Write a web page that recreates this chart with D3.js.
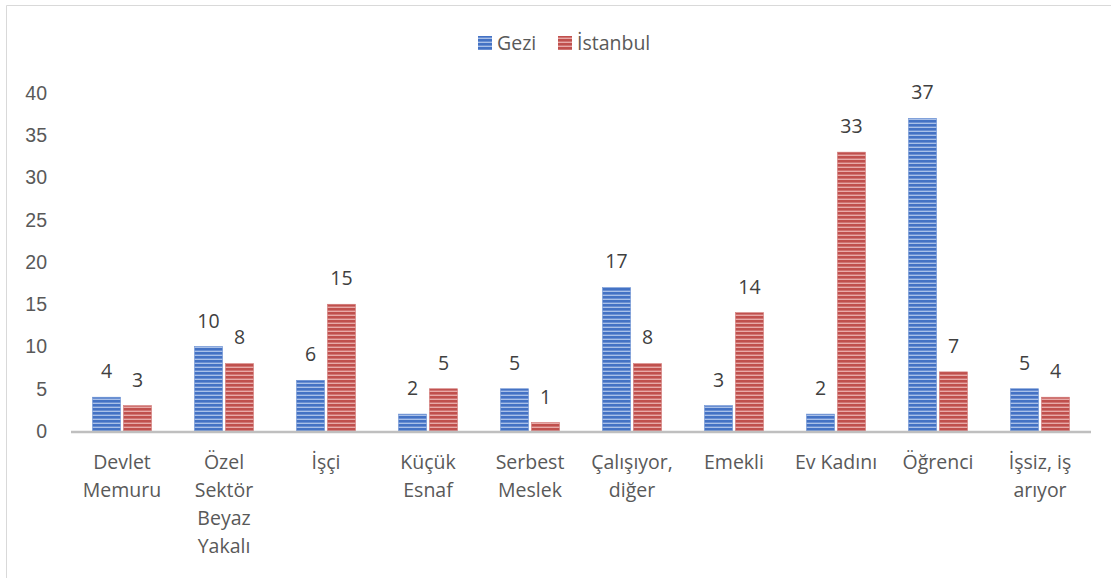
<!DOCTYPE html>
<html>
<head>
<meta charset="utf-8">
<script src="https://cdn.jsdelivr.net/npm/d3@7"></script>
<style>
  body { margin: 0; background: #fff; }
  svg { display: block; font-family: "Open Sans", "Noto Sans", sans-serif; }
</style>
</head>
<body>
<div id="chart"></div>
<script>
// Data
const categories = [
  ["Devlet", "Memuru"],
  ["Özel", "Sektör", "Beyaz", "Yakalı"],
  ["İşçi"],
  ["Küçük", "Esnaf"],
  ["Serbest", "Meslek"],
  ["Çalışıyor,", "diğer"],
  ["Emekli"],
  ["Ev Kadını"],
  ["Öğrenci"],
  ["İşsiz, iş", "arıyor"]
];
const seriesNames = ["Gezi", "İstanbul"];
const geziValues = [4, 10, 6, 2, 5, 17, 3, 2, 37, 5];
const istanbulValues = [3, 8, 15, 5, 1, 8, 14, 33, 7, 4];
const yTicks = [0, 5, 10, 15, 20, 25, 30, 35, 40];

const width = 1111, height = 578;
const margin = { top: 93, right: 20, bottom: 147, left: 71 };
const innerWidth = 1091 - margin.left;
const innerHeight = 431 - margin.top;
const fontSize = "19.5px";

const svg = d3.select("#chart")
  .append("svg")
    .attr("width", width)
    .attr("height", height);

// Frame (only top and left edges are visible)
svg.append("line")
  .attr("x1", 6.5).attr("x2", 6.5)
  .attr("y1", 5.5).attr("y2", height)
  .attr("stroke", "#D9D9D9");
svg.append("line")
  .attr("x1", 6.5).attr("x2", width)
  .attr("y1", 5.5).attr("y2", 5.5)
  .attr("stroke", "#D9D9D9");

// Striped patterns
const defs = svg.append("defs");
const patterns = [
  { id: "stripe-blue", base: "#4472C4", light: "#A9C0E8", mid: "#6A8FD2" },
  { id: "stripe-red", base: "#C0504D", light: "#E8AAA8", mid: "#D07472" }
];
patterns.forEach(p => {
  const pat = defs.append("pattern")
    .attr("id", p.id)
    .attr("patternUnits", "userSpaceOnUse")
    .attr("width", 8).attr("height", 4);
  pat.append("rect").attr("width", 8).attr("height", 4).attr("fill", p.base);
  pat.append("rect").attr("y", 1).attr("width", 8).attr("height", 1).attr("fill", p.mid);
  pat.append("rect").attr("y", 2).attr("width", 8).attr("height", 1).attr("fill", p.light);
});
const fills = ["url(#stripe-blue)", "url(#stripe-red)"];
const edgeColors = ["#6F93D4", "#D27B79"];

const innerChart = svg.append("g")
  .attr("transform", `translate(${margin.left}, ${margin.top})`);

// Scales
const xScale = d3.scaleBand()
  .domain(d3.range(categories.length))
  .range([0, innerWidth]);
const xSub = d3.scaleBand()
  .domain([0, 1])
  .range([xScale.bandwidth() / 2 - 29.5, xScale.bandwidth() / 2 + 29.5])
  .paddingInner(5 / 59 * 1.1);
const yScale = d3.scaleLinear()
  .domain([0, 40])
  .range([innerHeight, 0]);

// Left axis labels
const leftAxis = innerChart.append("g")
  .call(d3.axisLeft(yScale).tickValues(yTicks).tickSize(0).tickPadding(24));
leftAxis.select(".domain").remove();
leftAxis.selectAll("text")
  .attr("fill", "#595959")
  .style("font-size", fontSize);

// Bars
const rows = categories.map((c, i) => ({ i, values: [geziValues[i], istanbulValues[i]] }));
const groups = innerChart.selectAll(".group")
  .data(rows)
  .join("g")
    .attr("class", "group")
    .attr("transform", d => `translate(${xScale(d.i)}, 0)`);

groups.selectAll("rect")
  .data(d => d.values.map((v, s) => ({ v, s })))
  .join("rect")
    .attr("x", d => xSub(d.s))
    .attr("y", d => yScale(d.v))
    .attr("width", xSub.bandwidth())
    .attr("height", d => innerHeight - yScale(d.v))
    .attr("fill", d => fills[d.s])
    .attr("stroke", d => edgeColors[d.s])
    .attr("stroke-width", 0.6);

groups.selectAll(".value")
  .data(d => d.values.map((v, s) => ({ v, s })))
  .join("text")
    .attr("class", "value")
    .attr("x", d => xSub(d.s) + xSub.bandwidth() / 2)
    .attr("y", d => yScale(d.v) - 19)
    .attr("text-anchor", "middle")
    .attr("fill", "#404040")
    .style("font-size", fontSize)
    .text(d => d.v);

// Bottom axis line
innerChart.append("line")
  .attr("x1", 0).attr("x2", innerWidth)
  .attr("y1", innerHeight + 1).attr("y2", innerHeight + 1)
  .attr("stroke", "#BFBFBF")
  .attr("stroke-width", 2.5);

// Category labels
groups.append("text")
  .attr("text-anchor", "middle")
  .attr("fill", "#595959")
  .style("font-size", fontSize)
  .selectAll("tspan")
  .data(d => categories[d.i])
  .join("tspan")
    .attr("x", xScale.bandwidth() / 2)
    .attr("y", (d, k) => innerHeight + 38 + k * 28)
    .text(d => d);

// Legend
const legend = svg.append("g").attr("transform", "translate(478, 36)");
const legendX = [0, 80];
seriesNames.forEach((name, s) => {
  const item = legend.append("g").attr("transform", `translate(${legendX[s]}, 0)`);
  item.append("rect")
    .attr("width", 14).attr("height", 14)
    .attr("fill", fills[s]);
  item.append("text")
    .attr("x", 19).attr("y", 14)
    .attr("fill", "#595959")
    .style("font-size", fontSize)
    .text(name);
});
</script>
</body>
</html>
